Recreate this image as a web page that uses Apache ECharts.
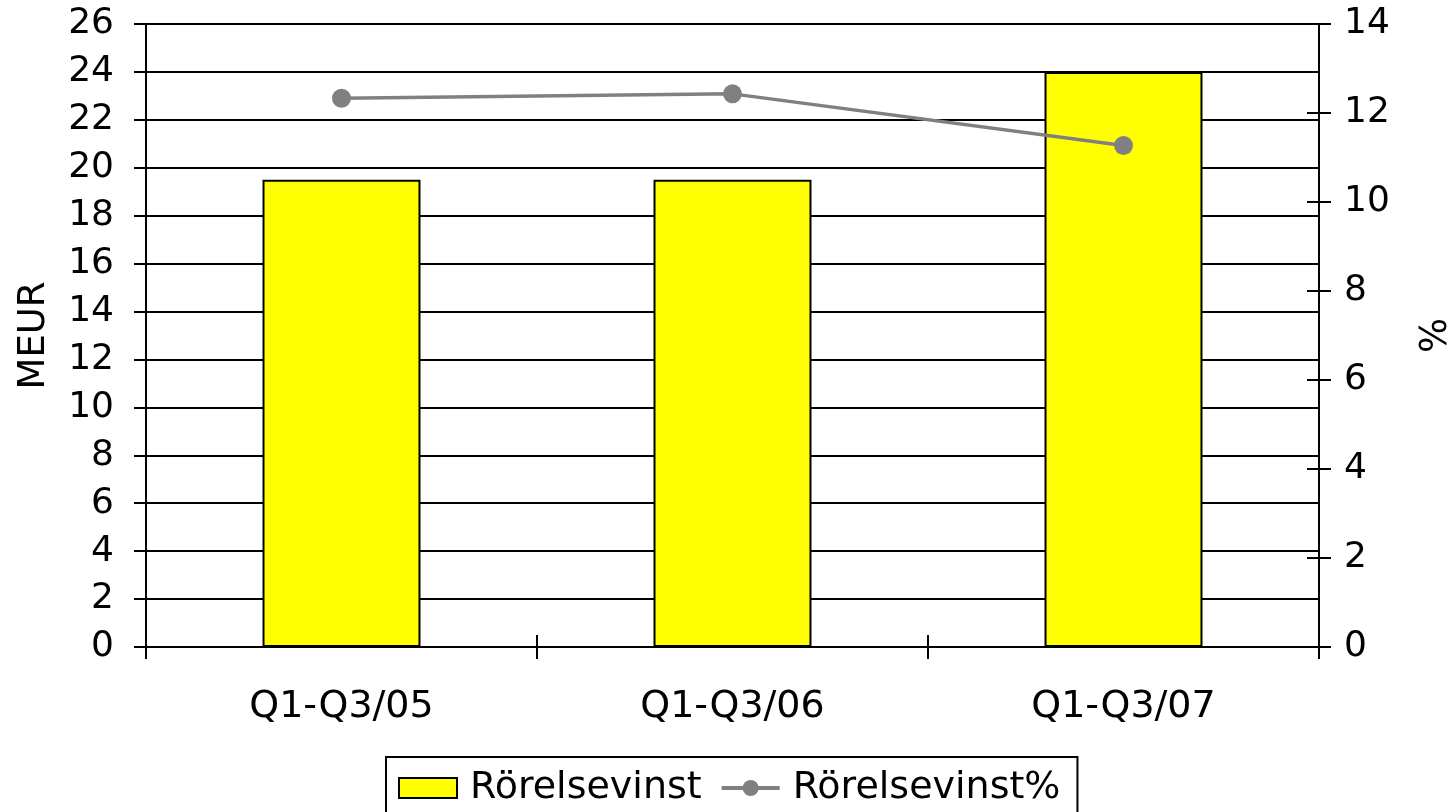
<!DOCTYPE html>
<html><head><meta charset="utf-8">
<script src="https://cdn.jsdelivr.net/npm/echarts@6/dist/echarts.min.js"></script>
<style>html,body{margin:0;padding:0;background:#fff;overflow:hidden;width:1452px;height:812px}#c{position:absolute;left:0;top:0;width:1452px;height:812px}</style>
</head><body><div id="c"></div>
<script>
const categories = ['Q1-Q3/05', 'Q1-Q3/06', 'Q1-Q3/07'];
const rorelsevinst = [19.5, 19.5, 24.0];
const rorelsevinstPct = [12.33, 12.43, 11.27];
const leftTicks = {min: 0, max: 26, interval: 2};
const rightTicks = {min: 0, max: 14, interval: 2};

const FONT = 'DejaVu Sans';
const FS = 36;
const FS_TXT = 38;
const chart = echarts.init(document.getElementById('c'), null, {renderer: 'canvas', width: 1452, height: 812});
const tickOut = {show: true, length: 12, lineStyle: {color: '#000', width: 2}};
const tickIn = {show: true, inside: true, length: 12, lineStyle: {color: '#000', width: 2}};
chart.setOption({
  animation: false,
  backgroundColor: '#fff',
  textStyle: {fontFamily: FONT},
  grid: {left: 146, right: 133, top: 24, bottom: 165, containLabel: false, outerBoundsMode: 'none'},
  legend: {
    left: 386, top: 757, width: 720,
    padding: [11, 17, 30, 12],
    borderColor: '#000', borderWidth: 2,
    itemGap: 18, itemWidth: 58, itemHeight: 20,
    textStyle: {fontFamily: FONT, fontSize: FS_TXT, color: '#000', lineHeight: 40, padding: [0, 0, 0, 8]},
    data: [
      {name: 'Rörelsevinst', icon: 'rect', itemStyle: {color: '#ffff00', borderColor: '#000', borderWidth: 2}},
      {name: 'Rörelsevinst%', lineStyle: {color: '#808080', width: 4}}
    ]
  },
  xAxis: [
    {type: 'category', data: categories, position: 'bottom',
     axisLine: {show: true, lineStyle: {color: '#000', width: 2}},
     axisTick: tickOut,
     axisLabel: {fontFamily: FONT, fontSize: FS_TXT, color: '#000', margin: 41}},
    {type: 'category', data: categories, position: 'bottom', gridIndex: 0,
     axisLine: {show: false}, axisTick: tickIn, axisLabel: {show: false}}
  ],
  yAxis: [
    {type: 'value', position: 'left', min: leftTicks.min, max: leftTicks.max, interval: leftTicks.interval,
     name: 'MEUR', nameLocation: 'middle', nameRotate: 90, nameGap: 93,
     nameTextStyle: {fontFamily: FONT, fontSize: 37, color: '#000'},
     axisLine: {show: true, lineStyle: {color: '#000', width: 2}},
     axisTick: tickOut,
     axisLabel: {fontFamily: FONT, fontSize: FS, color: '#000', margin: 32},
     splitLine: {show: true, lineStyle: {color: '#000', width: 2}}},
    {type: 'value', position: 'right', min: rightTicks.min, max: rightTicks.max, interval: rightTicks.interval,
     name: '%', nameLocation: 'middle', nameRotate: 90, nameGap: 99,
     nameTextStyle: {fontFamily: FONT, fontSize: 37, color: '#000'},
     axisLine: {show: true, lineStyle: {color: '#000', width: 2}},
     axisTick: tickOut,
     axisLabel: {fontFamily: FONT, fontSize: FS, color: '#000', margin: 25},
     splitLine: {show: false}},
    {type: 'value', position: 'left', min: leftTicks.min, max: leftTicks.max, interval: leftTicks.interval,
     axisLine: {show: false}, axisTick: tickIn, axisLabel: {show: false}, splitLine: {show: false}},
    {type: 'value', position: 'right', min: rightTicks.min, max: rightTicks.max, interval: rightTicks.interval,
     axisLine: {show: false}, axisTick: tickIn, axisLabel: {show: false}, splitLine: {show: false}}
  ],
  series: [
    {name: 'Rörelsevinst', type: 'bar', xAxisIndex: 0, yAxisIndex: 0, data: rorelsevinst,
     barWidth: '40.4%',
     itemStyle: {color: '#ffff00', borderColor: '#000', borderWidth: 2}},
    {name: 'Rörelsevinst%', type: 'line', xAxisIndex: 0, yAxisIndex: 1, data: rorelsevinstPct,
     symbol: 'circle', symbolSize: 19,
     lineStyle: {color: '#808080', width: 3.5},
     itemStyle: {color: '#808080'}}
  ]
});
</script></body></html>
